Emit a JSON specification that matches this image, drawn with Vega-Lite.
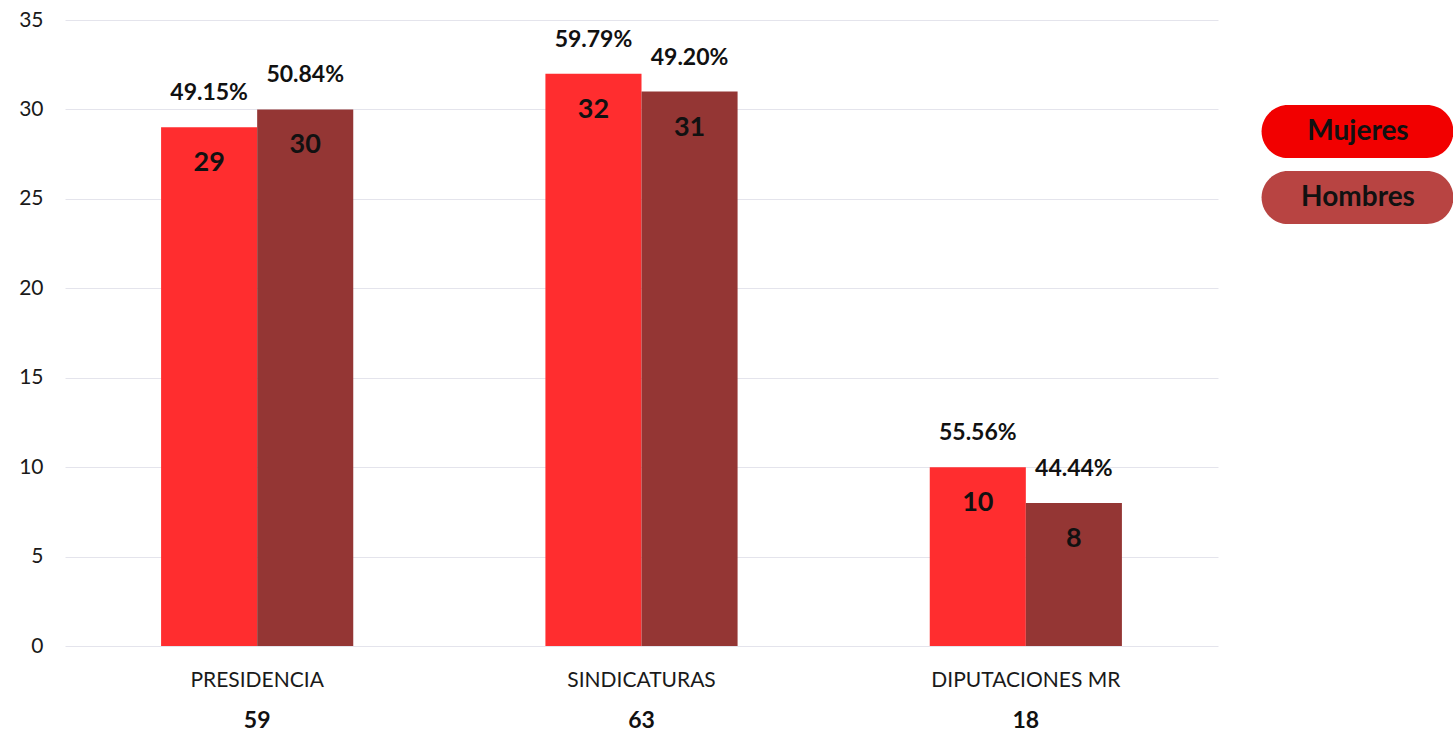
{
  "$schema": "https://vega.github.io/schema/vega-lite/v6.json",
  "autosize": "none",
  "width": 1153,
  "height": 626,
  "padding": {"left": 65, "top": 20, "right": 235, "bottom": 90},
  "background": "white",
  "config": {
    "view": {"stroke": null},
    "font": "Lato",
    "axis": {"labelFont": "Lato", "labelColor": "#1a1a1a"}
  },
  "data": {
    "values": [
      {"cargo": "PRESIDENCIA", "sexo": "Mujeres", "n": 29, "pct": "49.15%", "total": 59},
      {"cargo": "PRESIDENCIA", "sexo": "Hombres", "n": 30, "pct": "50.84%", "total": 59},
      {"cargo": "SINDICATURAS", "sexo": "Mujeres", "n": 32, "pct": "59.79%", "total": 63},
      {"cargo": "SINDICATURAS", "sexo": "Hombres", "n": 31, "pct": "49.20%", "total": 63},
      {"cargo": "DIPUTACIONES MR", "sexo": "Mujeres", "n": 10, "pct": "55.56%", "total": 18},
      {"cargo": "DIPUTACIONES MR", "sexo": "Hombres", "n": 8, "pct": "44.44%", "total": 18}
    ]
  },
  "encoding": {
    "x": {
      "field": "cargo", "type": "nominal",
      "sort": ["PRESIDENCIA", "SINDICATURAS", "DIPUTACIONES MR"],
      "scale": {"paddingInner": 0.5, "paddingOuter": 0.25},
      "axis": {"title": null, "labelAngle": 0, "labelFontSize": 21, "labelLimit": 400, "labelPadding": 23, "ticks": false, "domain": false, "grid": false}
    }
  },
  "resolve": {"scale": {"color": "independent", "fill": "independent"}},
  "layer": [
    {
      "mark": {"type": "bar"},
      "encoding": {
        "xOffset": {"field": "sexo", "type": "nominal", "sort": ["Mujeres", "Hombres"], "scale": {"paddingInner": 0, "paddingOuter": 0}},
        "y": {
          "field": "n", "type": "quantitative",
          "scale": {"domain": [0, 35], "nice": false},
          "axis": {"title": null, "values": [0, 5, 10, 15, 20, 25, 30, 35], "labelFontSize": 21, "labelPadding": 22, "ticks": false, "domain": false, "gridColor": "#e4e4ec", "gridWidth": 1}
        },
        "color": {
          "field": "sexo", "type": "nominal",
          "sort": ["Mujeres", "Hombres"],
          "scale": {"domain": ["Mujeres", "Hombres"], "range": ["#ff2d2f", "#943634"]},
          "legend": null
        }
      }
    },
    {
      "mark": {"type": "point", "filled": true, "size": 0, "strokeWidth": 0},
      "encoding": {
        "y": {"field": "n", "type": "quantitative"},
        "fill": {
          "field": "sexo", "type": "nominal",
          "sort": ["Mujeres", "Hombres"],
          "scale": {"domain": ["Mujeres", "Hombres"], "range": ["#f20000", "#b84442"]},
          "legend": {
            "title": null,
            "orient": "none",
            "legendX": 1266,
            "legendY": 85,
            "symbolType": "M-2.62,-1L2.62,-1A1,1,0,0,1,2.62,1L-2.62,1A1,1,0,0,1,-2.62,-1Z",
            "symbolSize": 2809,
            "symbolStrokeWidth": 0,
            "symbolOpacity": 1,
            "labelFont": "Lato",
            "labelFontSize": 28,
            "labelFontWeight": "bold",
            "labelColor": "#111111",
            "labelAlign": "center",
            "labelOffset": -26,
            "labelLimit": 300,
            "rowPadding": 13
          }
        }
      }
    },
    {
      "mark": {"type": "text", "dy": -34, "fontSize": 23, "fontWeight": "bold", "color": "#111111", "font": "Lato"},
      "encoding": {
        "xOffset": {"field": "sexo", "type": "nominal", "sort": ["Mujeres", "Hombres"]},
        "y": {"field": "n", "type": "quantitative"},
        "text": {"field": "pct", "type": "nominal"}
      }
    },
    {
      "mark": {"type": "text", "dy": 36, "fontSize": 27, "fontWeight": "bold", "color": "#111111", "font": "Lato"},
      "encoding": {
        "xOffset": {"field": "sexo", "type": "nominal", "sort": ["Mujeres", "Hombres"]},
        "y": {"field": "n", "type": "quantitative"},
        "text": {"field": "n", "type": "quantitative"}
      }
    },
    {
      "transform": [{"filter": "datum.sexo === 'Mujeres'"}],
      "mark": {"type": "text", "dy": 75, "fontSize": 23, "fontWeight": "bold", "color": "#111111", "font": "Lato"},
      "encoding": {
        "y": {"datum": 0, "type": "quantitative"},
        "text": {"field": "total", "type": "quantitative"}
      }
    }
  ]
}
